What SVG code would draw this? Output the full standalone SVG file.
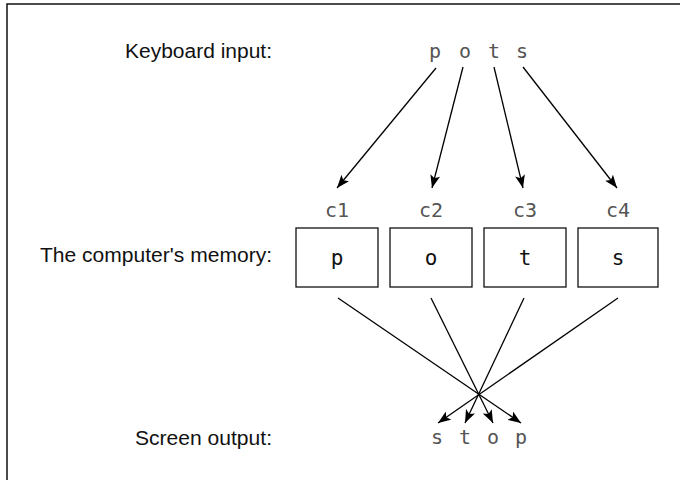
<svg xmlns="http://www.w3.org/2000/svg" width="680" height="480" viewBox="0 0 680 480">
<style>
.lbl{font-family:"Liberation Sans Narrow","Liberation Sans",Arial,sans-serif;font-size:20px;fill:#111;text-anchor:end}
.mono{font-family:"DejaVu Sans Mono","Liberation Mono",monospace;font-size:20px;font-weight:300;fill:#555;text-anchor:middle}
.cell{font-family:"DejaVu Sans Mono","Liberation Mono",monospace;font-size:21px;fill:#111;text-anchor:middle}
.box{fill:#fff;stroke:#111;stroke-width:1.3}
.ln{stroke:#000;stroke-width:1.3;fill:none}
</style>
<defs>
<marker id="ah" markerWidth="14" markerHeight="10" refX="13" refY="5" orient="auto" markerUnits="userSpaceOnUse">
<path d="M0,0 L13,5 L0,10 L3,5 z" fill="#000"/>
</marker>
</defs>
<rect x="0" y="0" width="680" height="480" fill="#fff"/>
<rect x="7" y="4" width="700" height="500" fill="none" stroke="#111" stroke-width="1.5"/>
<g id="labels">
<text class="lbl" x="272" y="58" textLength="147" lengthAdjust="spacingAndGlyphs">Keyboard input:</text>
<text class="lbl" x="272" y="262" textLength="232" lengthAdjust="spacingAndGlyphs">The computer's memory:</text>
<text class="lbl" x="272" y="445" textLength="137" lengthAdjust="spacingAndGlyphs">Screen output:</text>
</g>
<g id="input">
<text class="mono" x="435" y="58">p</text>
<text class="mono" x="465" y="58">o</text>
<text class="mono" x="494" y="58">t</text>
<text class="mono" x="522" y="58">s</text>
</g>
<g id="c1"><text class="mono" x="337" y="217">c1</text><rect class="box" x="296" y="228" width="82" height="59"/><text class="cell" x="337" y="265">p</text></g>
<g id="c2"><text class="mono" x="431" y="217">c2</text><rect class="box" x="390" y="228" width="82" height="59"/><text class="cell" x="431" y="265">o</text></g>
<g id="c3"><text class="mono" x="525" y="217">c3</text><rect class="box" x="484" y="228" width="82" height="59"/><text class="cell" x="525" y="265">t</text></g>
<g id="c4"><text class="mono" x="618" y="217">c4</text><rect class="box" x="578" y="228" width="80" height="59"/><text class="cell" x="618" y="265">s</text></g>
<g id="output">
<text class="mono" x="437" y="444">s</text>
<text class="mono" x="465" y="444">t</text>
<text class="mono" x="493" y="444">o</text>
<text class="mono" x="521" y="444">p</text>
</g>
<g id="connectors">
<line class="ln" x1="436" y1="68" x2="337" y2="188" marker-end="url(#ah)"/>
<line class="ln" x1="463" y1="67" x2="432" y2="188" marker-end="url(#ah)"/>
<line class="ln" x1="494" y1="67" x2="523" y2="188" marker-end="url(#ah)"/>
<line class="ln" x1="523" y1="67" x2="617" y2="188" marker-end="url(#ah)"/>
<line class="ln" x1="338" y1="298" x2="521" y2="423" marker-end="url(#ah)"/>
<line class="ln" x1="431" y1="298" x2="493" y2="423" marker-end="url(#ah)"/>
<line class="ln" x1="524" y1="298" x2="465" y2="423" marker-end="url(#ah)"/>
<line class="ln" x1="618" y1="298" x2="438" y2="423" marker-end="url(#ah)"/>
</g>
</svg>
